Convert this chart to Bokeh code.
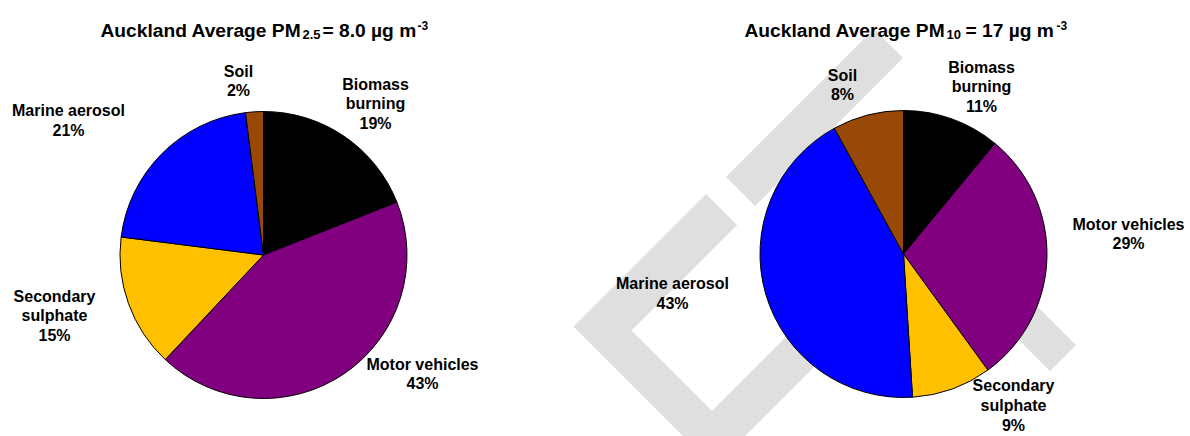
import numpy as np
from bokeh.plotting import figure
from bokeh.models import Range1d, ColumnDataSource
from bokeh.core.properties import value
from bokeh.embed import file_html
from bokeh.resources import INLINE

# ---------------- data ----------------
sources = ["Biomass\nburning", "Motor vehicles", "Secondary\nsulphate", "Marine aerosol", "Soil"]
pm25_pct = [19, 43, 15, 21, 2]
pm10_pct = [11, 29, 9, 43, 8]
slice_colors = ["#000000", "#800080", "#FFC000", "#0000FF", "#984807"]

title25_parts = ["Auckland Average PM", "2.5", "= 8.0 \u00b5g m", "-3"]
title10_parts = ["Auckland Average PM", "10", "= 17 \u00b5g m", "-3"]

# ---------------- layout (picture pixel coordinates) ----------------
W, H = 1190, 436
FONT = value("Liberation Sans")

def Y(py):
    return H - py

p = figure(width=W, height=H, output_backend="svg", toolbar_location=None,
           x_range=Range1d(0, W), y_range=Range1d(0, H),
           x_axis_location=None, y_axis_location=None, min_border=0)
p.grid.visible = False
p.outline_line_color = None
p.background_fill_color = "white"

# decorative light-grey watermark behind the charts (u = x+y, v = y-x)
wm_shapes = [
    [(899, -512), (899, -247), (1180, -247), (1180, -700), (1122, -700), (1122, -301), (961, -301), (961, -512)],
    [(902, -549), (902, -845), (960, -845), (960, -549)],
    [(1000, -731), (1420, -731), (1420, -679), (1000, -679)],
]
wxs, wys = [], []
for shp in wm_shapes:
    wxs.append([(u - v) / 2 for u, v in shp])
    wys.append([Y((u + v) / 2) for u, v in shp])
p.patches(wxs, wys, fill_color="#DFDFDF", line_color=None)

def draw_pie(pcts, cx, cy, r, label_pos):
    vals = np.array(pcts, dtype=float)
    frac = vals / vals.sum()
    c1 = np.cumsum(frac)
    c0 = c1 - frac
    start = np.pi / 2 - 2 * np.pi * c1
    end = np.pi / 2 - 2 * np.pi * c0
    src = ColumnDataSource(dict(start=start, end=end, color=slice_colors))
    p.wedge(x=cx, y=Y(cy), radius=r, start_angle="start", end_angle="end",
            fill_color="color", line_color="black", line_width=1, source=src)
    labels = [f"{s}\n{v}%" for s, v in zip(sources, pcts)]
    lsrc = ColumnDataSource(dict(x=[q[0] for q in label_pos], y=[Y(q[1]) for q in label_pos], t=labels))
    p.text(x="x", y="y", text="t", source=lsrc, text_font=FONT, text_font_style="bold",
           text_font_size="16px", text_align="center", text_baseline="middle",
           text_line_height=1.17, text_color="black")

draw_pie(pm25_pct, 263, 254.5, 143.5,
         [(375, 103.5), (422, 373.5), (54, 315.5), (68, 120), (238, 80.5)])
draw_pie(pm10_pct, 903, 253.5, 143.5,
         [(981, 86.5), (1128, 233.5), (1013, 405), (672, 293), (842, 84.5)])

def draw_title(parts, xs):
    sizes = ["19.2px", "13px", "19.2px", "12px"]
    bases = [30, 34.3, 30, 24.7]
    for t, x, s, b in zip(parts, xs, sizes, bases):
        p.text(x=[x], y=[Y(b)], text=[t], text_font=FONT, text_font_style="bold",
               text_font_size=s, text_align="left", text_baseline="alphabetic",
               text_color="black")

draw_title(title25_parts, [100, 302, 322, 417])
draw_title(title10_parts, [744, 946, 965, 1056])

open("out.html", "w").write(file_html(p, INLINE))
